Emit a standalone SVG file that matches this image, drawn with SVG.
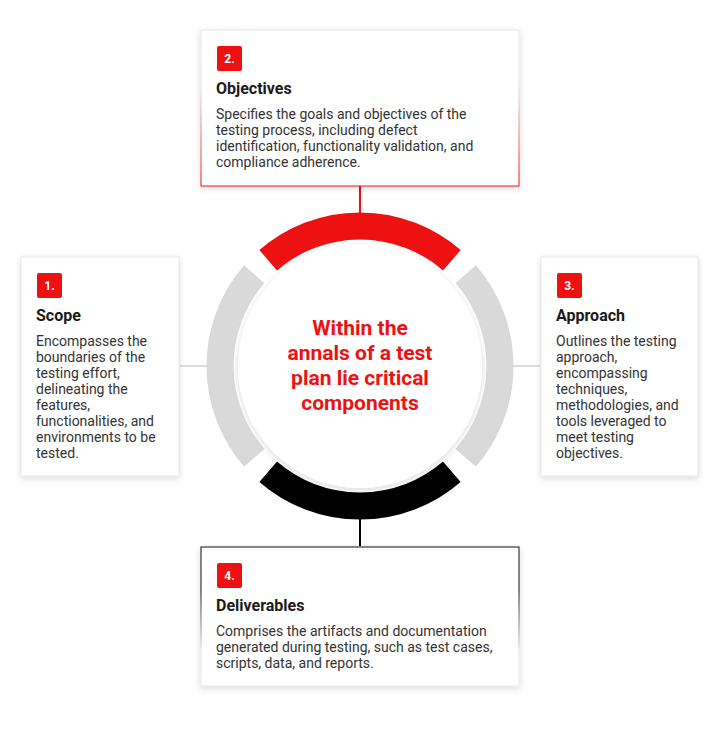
<svg xmlns="http://www.w3.org/2000/svg" width="720" height="732" viewBox="0 0 720 732">
<defs>
<linearGradient id="gr" x1="0" y1="0" x2="0" y2="1"><stop offset="0.35" stop-color="#e6e6e6"/><stop offset="1" stop-color="#ee1111"/></linearGradient>
<linearGradient id="gb" x1="0" y1="0" x2="0" y2="1"><stop offset="0.3" stop-color="#111"/><stop offset="0.75" stop-color="#e6e6e6"/></linearGradient>
<filter id="sh" x="-20%" y="-20%" width="140%" height="140%"><feDropShadow dx="0" dy="2" stdDeviation="3" flood-color="#000" flood-opacity="0.15"/></filter>
</defs>
<style>
.box{fill:#fff;filter:url(#sh)}
.badge{fill:#ee1111}
.bn{font:bold 12px Roboto,"Liberation Sans",sans-serif;fill:#fff;text-anchor:middle}
.tt{font:bold 16px Roboto,"Liberation Sans",sans-serif;fill:#1a1a1a}
.bd{font:14px Roboto,"Liberation Sans",sans-serif;fill:#333}
.seg{fill:none;stroke-width:27}
.ctr{font:bold 21px Roboto,"Liberation Sans",sans-serif;fill:#ee1111;text-anchor:middle}
</style>
<rect width="720" height="732" fill="#fff"/>
<g id="connectors">
<line x1="360" y1="186" x2="360" y2="214" stroke="#ee1111" stroke-width="2"/>
<line x1="360" y1="518" x2="360" y2="546" stroke="#000" stroke-width="2"/>
<line x1="180" y1="366" x2="207" y2="366" stroke="#ddd" stroke-width="2"/>
<line x1="513" y1="366" x2="540" y2="366" stroke="#ddd" stroke-width="2"/>
</g>
<g id="ring">
<path class="seg" stroke="#ee1111" d="M268.2 260.3 A140 140 0 0 1 451.8 260.3"/>
<path class="seg" stroke="#d9d9d9" d="M465.7 274.2 A140 140 0 0 1 465.7 457.8"/>
<path class="seg" stroke="#000" d="M451.8 471.8 A140 140 0 0 1 268.2 471.8"/>
<path class="seg" stroke="#d9d9d9" d="M254.3 457.8 A140 140 0 0 1 254.3 274.2"/>
<circle cx="360" cy="366" r="122" fill="#fff" filter="url(#sh)"/>
<text class="ctr"><tspan x="360" y="335">Within the</tspan><tspan x="360" y="360">annals of a test</tspan><tspan x="360" y="385">plan lie critical</tspan><tspan x="360" y="410">components</tspan></text>
</g>
<g id="n2">
<rect class="box" x="201" y="30" width="318" height="156" stroke="url(#gr)"/>
<rect class="badge" x="217" y="46" width="25" height="25" rx="2"/><text class="bn" x="229.5" y="63">2.</text>
<text class="tt" x="216" y="94">Objectives</text>
<text class="bd"><tspan x="216" y="119">Specifies the goals and objectives of the</tspan><tspan x="216" y="135">testing process, including defect</tspan><tspan x="216" y="151">identification, functionality validation, and</tspan><tspan x="216" y="167">compliance adherence.</tspan></text>
</g>
<g id="n1">
<rect class="box" x="21" y="257" width="158" height="219" stroke="#e6e6e6"/>
<rect class="badge" x="37" y="273" width="25" height="25" rx="2"/><text class="bn" x="49.5" y="290">1.</text>
<text class="tt" x="36" y="321">Scope</text>
<text class="bd"><tspan x="36" y="346">Encompasses the</tspan><tspan x="36" y="362">boundaries of the</tspan><tspan x="36" y="378">testing effort,</tspan><tspan x="36" y="394">delineating the</tspan><tspan x="36" y="410">features,</tspan><tspan x="36" y="426">functionalities, and</tspan><tspan x="36" y="442">environments to be</tspan><tspan x="36" y="458">tested.</tspan></text>
</g>
<g id="n3">
<rect class="box" x="541" y="257" width="157" height="219" stroke="#e6e6e6"/>
<rect class="badge" x="557" y="273" width="25" height="25" rx="2"/><text class="bn" x="569.5" y="290">3.</text>
<text class="tt" x="556" y="321">Approach</text>
<text class="bd"><tspan x="556" y="346">Outlines the testing</tspan><tspan x="556" y="362">approach,</tspan><tspan x="556" y="378">encompassing</tspan><tspan x="556" y="394">techniques,</tspan><tspan x="556" y="410">methodologies, and</tspan><tspan x="556" y="426">tools leveraged to</tspan><tspan x="556" y="442">meet testing</tspan><tspan x="556" y="458">objectives.</tspan></text>
</g>
<g id="n4">
<rect class="box" x="201" y="547" width="318" height="139" stroke="url(#gb)"/>
<rect class="badge" x="217" y="563" width="25" height="25" rx="2"/><text class="bn" x="229.5" y="580">4.</text>
<text class="tt" x="216" y="611">Deliverables</text>
<text class="bd"><tspan x="216" y="636">Comprises the artifacts and documentation</tspan><tspan x="216" y="652">generated during testing, such as test cases,</tspan><tspan x="216" y="668">scripts, data, and reports.</tspan></text>
</g>
</svg>
